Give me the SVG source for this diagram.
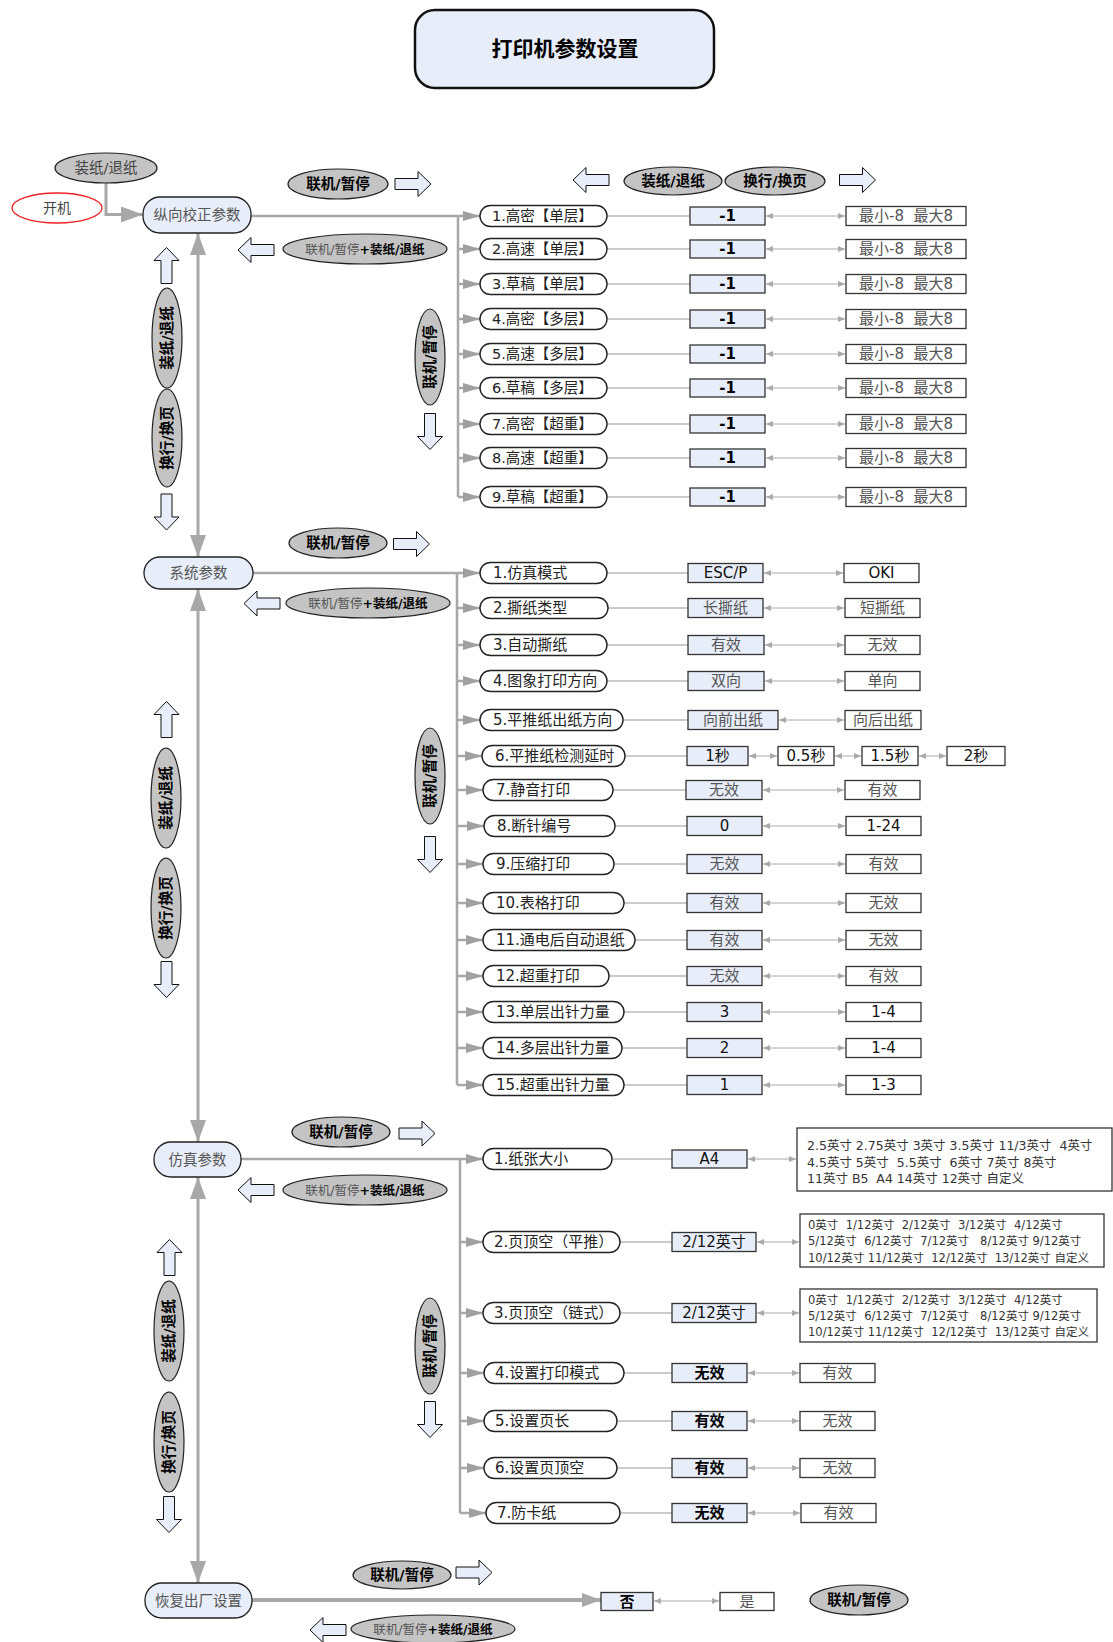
<svg xmlns="http://www.w3.org/2000/svg" xmlns:xlink="http://www.w3.org/1999/xlink" width="1113" height="1642" viewBox="0 0 1113 1642" xml:space="preserve">
<style>
text{font-family:"DejaVu Sans","Noto Sans CJK SC",sans-serif;dominant-baseline:central;white-space:pre}
.c{text-anchor:middle}
.nd{fill:#e8eef9;stroke:#222;stroke-width:1.3}
.tt{fill:#e8eef9;stroke:#111;stroke-width:2.5}
.nt{font-size:14.5px;fill:#555}
.ky{fill:#c4c4c4;stroke:#222;stroke-width:1.2}
.kt{font-size:14.5px;font-weight:bold;fill:#000}
.kc{font-size:12.5px;fill:#555}
.kb{font-weight:bold;fill:#000}
.pl{fill:#fff;stroke:#222;stroke-width:1.4}
.p1{font-size:14.5px;fill:#222}
.p2{font-size:15px;fill:#222}
.p3{font-size:15px;fill:#222}
.vb{fill:#e8eef9;stroke:#333;stroke-width:1.3}
.rb{fill:#fff;stroke:#333;stroke-width:1.3}
.vt{font-size:15px;fill:#111}
.vg{font-size:15px;fill:#555}
.bd{font-weight:bold;fill:#000}
.ba{fill:#e8eef9;stroke:#111;stroke-width:1}
.ml{stroke:#a8a8a8;stroke-width:3;fill:none}
.bl{stroke:#a8a8a8;stroke-width:2.5;fill:none}
.br{stroke:#a8a8a8;stroke-width:2.5;fill:none;marker-end:url(#mB)}
.tl{stroke:#bbb;stroke-width:1.5;fill:none}
.da{stroke:#aaa;stroke-width:1;fill:none;marker-start:url(#mS);marker-end:url(#mS)}
.bx{font-size:12.5px;fill:#333}
.bs{font-size:11.5px;fill:#333}
</style>
<defs>
<marker id="mA" markerUnits="userSpaceOnUse" markerWidth="22" markerHeight="16" refX="22" refY="8" orient="auto-start-reverse"><path d="M0,0 L22,8 L0,16 z" fill="#a8a8a8"/></marker>
<marker id="mC" markerUnits="userSpaceOnUse" markerWidth="19" markerHeight="14" refX="19" refY="7" orient="auto"><path d="M0,0 L19,7 L0,14 z" fill="#a8a8a8"/></marker>
<marker id="mB" markerUnits="userSpaceOnUse" markerWidth="17" markerHeight="10" refX="17" refY="5" orient="auto"><path d="M0,0 L17,5 L0,10 z" fill="#a0a0a0"/></marker>
<marker id="mS" markerUnits="userSpaceOnUse" markerWidth="7" markerHeight="6" refX="7" refY="3" orient="auto-start-reverse"><path d="M0,0 L7,3 L0,6 z" fill="#aaa"/></marker>
<path id="ba" class="ba" d="M-18,-5.5 H5 V-12.5 L18,0 L5,12.5 V5.5 H-18 Z"/>
</defs>

<g id="title"><rect class="tt" x="415" y="10" width="299" height="78" rx="20"/><text class="c" x="565" y="49" style="font-size:21px;font-weight:bold">打印机参数设置</text></g>

<g id="connectors">
<path class="ml" d="M106,183 V214.5 H143" marker-end="url(#mA)"/>
<line class="ml" x1="198" y1="233" x2="198" y2="557" marker-start="url(#mA)" marker-end="url(#mA)"/>
<line class="ml" x1="198" y1="589" x2="198" y2="1142" marker-start="url(#mA)" marker-end="url(#mA)"/>
<line class="ml" x1="198" y1="1177" x2="198" y2="1583" marker-start="url(#mA)" marker-end="url(#mA)"/>
<!-- section 1 -->
<path class="br" d="M251,216 H480"/>
<path class="bl" d="M458,216 V497"/>
<path class="br" d="M458,249 H480"/><path class="br" d="M458,284 H480"/><path class="br" d="M458,319 H480"/><path class="br" d="M458,354 H480"/><path class="br" d="M458,388 H480"/><path class="br" d="M458,424 H480"/><path class="br" d="M458,458 H480"/><path class="br" d="M458,497 H480"/>
<path class="tl" d="M607,216H690M607,249H690M607,284H690M607,319H690M607,354H690M607,388H690M607,424H690M607,458H690M607,497H690"/>
<line class="da" x1="766" y1="216" x2="845" y2="216"/><line class="da" x1="766" y1="249" x2="845" y2="249"/><line class="da" x1="766" y1="284" x2="845" y2="284"/><line class="da" x1="766" y1="319" x2="845" y2="319"/><line class="da" x1="766" y1="354" x2="845" y2="354"/><line class="da" x1="766" y1="388" x2="845" y2="388"/><line class="da" x1="766" y1="424" x2="845" y2="424"/><line class="da" x1="766" y1="458" x2="845" y2="458"/><line class="da" x1="766" y1="497" x2="845" y2="497"/>
<!-- section 2 -->
<path class="br" d="M253,573 H480"/>
<path class="bl" d="M457,573 V1085"/>
<path class="br" d="M457,608 H480"/><path class="br" d="M457,645 H480"/><path class="br" d="M457,681 H480"/><path class="br" d="M457,720 H480"/><path class="br" d="M457,756 H482"/><path class="br" d="M457,790 H483"/><path class="br" d="M457,826 H484"/><path class="br" d="M457,864 H483"/><path class="br" d="M457,903 H483"/><path class="br" d="M457,940 H483"/><path class="br" d="M457,976 H483"/><path class="br" d="M457,1012 H483"/><path class="br" d="M457,1048 H483"/><path class="br" d="M457,1085 H483"/>
<path class="tl" d="M607,573H688M608,608H688M607,645H688M607,681H688M623,720H688M625,756H687M613,790H686M615,826H687M614,864H687M624,903H687M635,940H687M609,976H687M624,1012H687M622,1048H687M624,1085H687"/>
<line class="da" x1="764" y1="573" x2="843" y2="573"/><line class="da" x1="764" y1="608" x2="844" y2="608"/><line class="da" x1="765" y1="645" x2="844" y2="645"/><line class="da" x1="765" y1="681" x2="844" y2="681"/><line class="da" x1="779" y1="720" x2="844" y2="720"/>
<line class="da" x1="749" y1="756" x2="777" y2="756"/><line class="da" x1="835" y1="756" x2="861" y2="756"/><line class="da" x1="919" y1="756" x2="946" y2="756"/>
<line class="da" x1="763" y1="790" x2="844" y2="790"/><line class="da" x1="763" y1="826" x2="845" y2="826"/><line class="da" x1="763" y1="864" x2="845" y2="864"/><line class="da" x1="763" y1="903" x2="845" y2="903"/><line class="da" x1="763" y1="940" x2="845" y2="940"/><line class="da" x1="763" y1="976" x2="845" y2="976"/><line class="da" x1="763" y1="1012" x2="845" y2="1012"/><line class="da" x1="763" y1="1048" x2="845" y2="1048"/><line class="da" x1="763" y1="1085" x2="845" y2="1085"/>
<!-- section 3 -->
<path class="br" d="M241,1159 H483"/>
<path class="bl" d="M460,1159 V1513"/>
<path class="br" d="M460,1242 H483"/><path class="br" d="M460,1313 H483"/><path class="br" d="M460,1373 H484"/><path class="br" d="M460,1421 H484"/><path class="br" d="M460,1468 H484"/><path class="br" d="M460,1513 H486"/>
<path class="tl" d="M612,1159H672M620,1242H672M620,1313H672M624,1373H672M617,1421H672M617,1468H672M620,1513H672"/>
<line class="da" x1="748" y1="1159" x2="796" y2="1159"/><line class="da" x1="757" y1="1242" x2="799" y2="1242"/><line class="da" x1="757" y1="1313" x2="799" y2="1313"/><line class="da" x1="748" y1="1373" x2="799" y2="1373"/><line class="da" x1="748" y1="1421" x2="799" y2="1421"/><line class="da" x1="748" y1="1468" x2="799" y2="1468"/><line class="da" x1="748" y1="1513" x2="800" y2="1513"/>
<!-- section 4 -->
<line x1="252" y1="1600" x2="601" y2="1600" stroke="#a8a8a8" stroke-width="4" marker-end="url(#mC)"/>
<line class="da" x1="654" y1="1601" x2="719" y2="1601"/>
</g>

<g id="keys">
<g id="k-load0"><ellipse class="ky" cx="106" cy="168" rx="51" ry="15"/><text class="c" x="106" y="168" style="font-size:14.5px;fill:#444">装纸/退纸</text></g>
<g id="k-power"><ellipse cx="57" cy="208" rx="45" ry="15" fill="#fff" stroke="#e22" stroke-width="1.3"/><text class="c" x="57" y="208" style="font-size:14px;fill:#444">开机</text></g>
<!-- section 1 keys -->
<g id="k1a"><ellipse class="ky" cx="338" cy="184" rx="50" ry="15"/><text class="kt c" x="338" y="184">联机/暂停</text></g>
<g id="k1b"><ellipse class="ky" cx="365" cy="249" rx="82" ry="15"/><text class="kc c" x="365" y="249">联机/暂停<tspan class="kb">+装纸/退纸</tspan></text></g>
<g id="k1c"><ellipse class="ky" cx="167" cy="338" rx="15" ry="50"/><text class="kt c" transform="translate(167,338) rotate(-90)">装纸/退纸</text></g>
<g id="k1d"><ellipse class="ky" cx="167" cy="438" rx="15" ry="49"/><text class="kt c" transform="translate(167,438) rotate(-90)">换行/换页</text></g>
<g id="k1e"><ellipse class="ky" cx="430" cy="357" rx="15" ry="48"/><text class="kt c" transform="translate(430,357) rotate(-90)">联机/暂停</text></g>
<g id="k1f"><ellipse class="ky" cx="673" cy="181" rx="49" ry="14"/><text class="kt c" x="673" y="181">装纸/退纸</text></g>
<g id="k1g"><ellipse class="ky" cx="775" cy="181" rx="50" ry="14"/><text class="kt c" x="775" y="181">换行/换页</text></g>
<!-- section 2 keys -->
<g id="k2a"><ellipse class="ky" cx="338" cy="543" rx="49" ry="15"/><text class="kt c" x="338" y="543">联机/暂停</text></g>
<g id="k2b"><ellipse class="ky" cx="368" cy="603" rx="82" ry="15"/><text class="kc c" x="368" y="603">联机/暂停<tspan class="kb">+装纸/退纸</tspan></text></g>
<g id="k2c"><ellipse class="ky" cx="166" cy="798" rx="15" ry="50"/><text class="kt c" transform="translate(166,798) rotate(-90)">装纸/退纸</text></g>
<g id="k2d"><ellipse class="ky" cx="166" cy="908" rx="15" ry="50"/><text class="kt c" transform="translate(166,908) rotate(-90)">换行/换页</text></g>
<g id="k2e"><ellipse class="ky" cx="430" cy="776" rx="15" ry="48"/><text class="kt c" transform="translate(430,776) rotate(-90)">联机/暂停</text></g>
<!-- section 3 keys -->
<g id="k3a"><ellipse class="ky" cx="341" cy="1132" rx="49" ry="15"/><text class="kt c" x="341" y="1132">联机/暂停</text></g>
<g id="k3b"><ellipse class="ky" cx="365" cy="1190" rx="82" ry="15"/><text class="kc c" x="365" y="1190">联机/暂停<tspan class="kb">+装纸/退纸</tspan></text></g>
<g id="k3c"><ellipse class="ky" cx="169" cy="1331" rx="15" ry="50"/><text class="kt c" transform="translate(169,1331) rotate(-90)">装纸/退纸</text></g>
<g id="k3d"><ellipse class="ky" cx="169" cy="1442" rx="15" ry="50"/><text class="kt c" transform="translate(169,1442) rotate(-90)">换行/换页</text></g>
<g id="k3e"><ellipse class="ky" cx="430" cy="1346" rx="15" ry="48"/><text class="kt c" transform="translate(430,1346) rotate(-90)">联机/暂停</text></g>
<!-- section 4 keys -->
<g id="k4a"><ellipse class="ky" cx="402" cy="1575" rx="49" ry="14"/><text class="kt c" x="402" y="1575">联机/暂停</text></g>
<g id="k4b"><ellipse class="ky" cx="859" cy="1600" rx="49" ry="15"/><text class="kt c" x="859" y="1600">联机/暂停</text></g>
<g id="k4c"><ellipse class="ky" cx="433" cy="1629" rx="82" ry="14"/><text class="kc c" x="433" y="1629">联机/暂停<tspan class="kb">+装纸/退纸</tspan></text></g>
</g>

<g id="block-arrows">
<use xlink:href="#ba" transform="translate(413,184)"/>
<use xlink:href="#ba" transform="translate(256,250) rotate(180)"/>
<use xlink:href="#ba" transform="translate(166.5,265.5) rotate(-90)"/>
<use xlink:href="#ba" transform="translate(166.5,512) rotate(90)"/>
<use xlink:href="#ba" transform="translate(430,431.5) rotate(90)"/>
<use xlink:href="#ba" transform="translate(591,180) rotate(180)"/>
<use xlink:href="#ba" transform="translate(857.5,180)"/>
<use xlink:href="#ba" transform="translate(411.5,544)"/>
<use xlink:href="#ba" transform="translate(262,603.5) rotate(180)"/>
<use xlink:href="#ba" transform="translate(166.5,719.5) rotate(-90)"/>
<use xlink:href="#ba" transform="translate(166.5,979.5) rotate(90)"/>
<use xlink:href="#ba" transform="translate(430,854.5) rotate(90)"/>
<use xlink:href="#ba" transform="translate(417,1133.5)"/>
<use xlink:href="#ba" transform="translate(256,1190) rotate(180)"/>
<use xlink:href="#ba" transform="translate(169.5,1257.5) rotate(-90)"/>
<use xlink:href="#ba" transform="translate(169,1514.5) rotate(90)"/>
<use xlink:href="#ba" transform="translate(430,1419.5) rotate(90)"/>
<use xlink:href="#ba" transform="translate(474,1572.5)"/>
<use xlink:href="#ba" transform="translate(328,1630) rotate(180)"/>
</g>

<g id="n1"><rect class="nd" x="143" y="197" width="108" height="36" rx="17"/><text class="nt c" x="197" y="215">纵向校正参数</text></g>
<g id="n2"><rect class="nd" x="144" y="557" width="109" height="32" rx="16"/><text class="nt c" x="198.5" y="573">系统参数</text></g>
<g id="n3"><rect class="nd" x="154" y="1142" width="87" height="35" rx="17"/><text class="nt c" x="197.5" y="1159.5">仿真参数</text></g>
<g id="n4"><rect class="nd" x="145" y="1583" width="107" height="35" rx="17"/><text class="nt c" x="198.5" y="1600.5">恢复出厂设置</text></g>

<g id="sec1">
<g id="s1r1"><rect class="pl" x="480" y="205.5" width="127" height="21" rx="10.5"/><text class="p1" x="492" y="216">1.高密【单层】</text></g>
<g id="s1r2"><rect class="pl" x="480" y="238.5" width="127" height="21" rx="10.5"/><text class="p1" x="492" y="249">2.高速【单层】</text></g>
<g id="s1r3"><rect class="pl" x="480" y="273.5" width="127" height="21" rx="10.5"/><text class="p1" x="492" y="284">3.草稿【单层】</text></g>
<g id="s1r4"><rect class="pl" x="480" y="308.5" width="127" height="21" rx="10.5"/><text class="p1" x="492" y="319">4.高密【多层】</text></g>
<g id="s1r5"><rect class="pl" x="480" y="343.5" width="127" height="21" rx="10.5"/><text class="p1" x="492" y="354">5.高速【多层】</text></g>
<g id="s1r6"><rect class="pl" x="480" y="377.5" width="127" height="21" rx="10.5"/><text class="p1" x="492" y="388">6.草稿【多层】</text></g>
<g id="s1r7"><rect class="pl" x="480" y="413.5" width="127" height="21" rx="10.5"/><text class="p1" x="492" y="424">7.高密【超重】</text></g>
<g id="s1r8"><rect class="pl" x="480" y="447.5" width="127" height="21" rx="10.5"/><text class="p1" x="492" y="458">8.高速【超重】</text></g>
<g id="s1r9"><rect class="pl" x="480" y="486.5" width="127" height="21" rx="10.5"/><text class="p1" x="492" y="497">9.草稿【超重】</text></g>
<g id="s1v"><rect class="vb" x="690" y="207" width="75" height="18"/><text class="vt bd c" x="727.5" y="216">-1</text>
<rect class="vb" x="690" y="240" width="75" height="18"/><text class="vt bd c" x="727.5" y="249">-1</text>
<rect class="vb" x="690" y="275" width="75" height="18"/><text class="vt bd c" x="727.5" y="284">-1</text>
<rect class="vb" x="690" y="310" width="75" height="18"/><text class="vt bd c" x="727.5" y="319">-1</text>
<rect class="vb" x="690" y="345" width="75" height="18"/><text class="vt bd c" x="727.5" y="354">-1</text>
<rect class="vb" x="690" y="379" width="75" height="18"/><text class="vt bd c" x="727.5" y="388">-1</text>
<rect class="vb" x="690" y="415" width="75" height="18"/><text class="vt bd c" x="727.5" y="424">-1</text>
<rect class="vb" x="690" y="449" width="75" height="18"/><text class="vt bd c" x="727.5" y="458">-1</text>
<rect class="vb" x="690" y="488" width="75" height="18"/><text class="vt bd c" x="727.5" y="497">-1</text></g>
<g id="s1g"><rect class="rb" x="846" y="206.5" width="120" height="19"/><text class="vg c" x="906" y="216">最小-8  最大8</text>
<rect class="rb" x="846" y="239.5" width="120" height="19"/><text class="vg c" x="906" y="249">最小-8  最大8</text>
<rect class="rb" x="846" y="274.5" width="120" height="19"/><text class="vg c" x="906" y="284">最小-8  最大8</text>
<rect class="rb" x="846" y="309.5" width="120" height="19"/><text class="vg c" x="906" y="319">最小-8  最大8</text>
<rect class="rb" x="846" y="344.5" width="120" height="19"/><text class="vg c" x="906" y="354">最小-8  最大8</text>
<rect class="rb" x="846" y="378.5" width="120" height="19"/><text class="vg c" x="906" y="388">最小-8  最大8</text>
<rect class="rb" x="846" y="414.5" width="120" height="19"/><text class="vg c" x="906" y="424">最小-8  最大8</text>
<rect class="rb" x="846" y="448.5" width="120" height="19"/><text class="vg c" x="906" y="458">最小-8  最大8</text>
<rect class="rb" x="846" y="487.5" width="120" height="19"/><text class="vg c" x="906" y="497">最小-8  最大8</text></g>
</g>

<g id="sec2">
<g id="s2r1"><rect class="pl" x="480" y="562.5" width="127" height="21" rx="10.5"/><text class="p2" x="493" y="573">1.仿真模式</text>
<rect class="vb" x="688" y="563.5" width="75" height="19"/><text class="vt c" x="725.5" y="573">ESC/P</text>
<rect class="rb" x="844" y="563.5" width="75" height="19"/><text class="vt c" x="881.5" y="573">OKI</text></g>
<g id="s2r2"><rect class="pl" x="480" y="597.5" width="128" height="21" rx="10.5"/><text class="p2" x="493" y="608">2.撕纸类型</text>
<rect class="vb" x="688" y="598.5" width="75" height="19"/><text class="vg c" x="725.5" y="608">长撕纸</text>
<rect class="rb" x="845" y="598.5" width="75" height="19"/><text class="vg c" x="882.5" y="608">短撕纸</text></g>
<g id="s2r3"><rect class="pl" x="480" y="634.5" width="127" height="21" rx="10.5"/><text class="p2" x="493" y="645">3.自动撕纸</text>
<rect class="vb" x="688" y="635.5" width="76" height="19"/><text class="vg c" x="726" y="645">有效</text>
<rect class="rb" x="845" y="635.5" width="75" height="19"/><text class="vg c" x="882.5" y="645">无效</text></g>
<g id="s2r4"><rect class="pl" x="480" y="670.5" width="127" height="21" rx="10.5"/><text class="p2" x="493" y="681">4.图象打印方向</text>
<rect class="vb" x="688" y="671.5" width="76" height="19"/><text class="vg c" x="726" y="681">双向</text>
<rect class="rb" x="845" y="671.5" width="75" height="19"/><text class="vg c" x="882.5" y="681">单向</text></g>
<g id="s2r5"><rect class="pl" x="480" y="709.5" width="143" height="21" rx="10.5"/><text class="p2" x="493" y="720">5.平推纸出纸方向</text>
<rect class="vb" x="688" y="710.5" width="90" height="19"/><text class="vg c" x="733" y="720">向前出纸</text>
<rect class="rb" x="845" y="710.5" width="76" height="19"/><text class="vg c" x="883" y="720">向后出纸</text></g>
<g id="s2r6"><rect class="pl" x="482" y="745.5" width="143" height="21" rx="10.5"/><text class="p2" x="495" y="756">6.平推纸检测延时</text>
<rect class="vb" x="687" y="746.5" width="61" height="19"/><text class="vt c" x="717.5" y="756">1秒</text>
<rect class="rb" x="778" y="746.5" width="56" height="19"/><text class="vt c" x="806" y="756">0.5秒</text>
<rect class="rb" x="862" y="746.5" width="56" height="19"/><text class="vt c" x="890" y="756">1.5秒</text>
<rect class="rb" x="947" y="746.5" width="58" height="19"/><text class="vt c" x="976" y="756">2秒</text></g>
<g id="s2r7"><rect class="pl" x="483" y="779.5" width="130" height="21" rx="10.5"/><text class="p2" x="496" y="790">7.静音打印</text>
<rect class="vb" x="686" y="780.5" width="76" height="19"/><text class="vg c" x="724" y="790">无效</text>
<rect class="rb" x="845" y="780.5" width="75" height="19"/><text class="vg c" x="882.5" y="790">有效</text></g>
<g id="s2r8"><rect class="pl" x="484" y="815.5" width="131" height="21" rx="10.5"/><text class="p2" x="497" y="826">8.断针编号</text>
<rect class="vb" x="687" y="816.5" width="75" height="19"/><text class="vt c" x="724.5" y="826">0</text>
<rect class="rb" x="846" y="816.5" width="75" height="19"/><text class="vt c" x="883.5" y="826">1-24</text></g>
<g id="s2r9"><rect class="pl" x="483" y="853.5" width="131" height="21" rx="10.5"/><text class="p2" x="496" y="864">9.压缩打印</text>
<rect class="vb" x="687" y="854.5" width="75" height="19"/><text class="vg c" x="724.5" y="864">无效</text>
<rect class="rb" x="846" y="854.5" width="75" height="19"/><text class="vg c" x="883.5" y="864">有效</text></g>
<g id="s2r10"><rect class="pl" x="483" y="892.5" width="141" height="21" rx="10.5"/><text class="p2" x="496" y="903">10.表格打印</text>
<rect class="vb" x="687" y="893.5" width="75" height="19"/><text class="vg c" x="724.5" y="903">有效</text>
<rect class="rb" x="846" y="893.5" width="75" height="19"/><text class="vg c" x="883.5" y="903">无效</text></g>
<g id="s2r11"><rect class="pl" x="483" y="929.5" width="152" height="21" rx="10.5"/><text class="p2" x="496" y="940">11.通电后自动退纸</text>
<rect class="vb" x="687" y="930.5" width="75" height="19"/><text class="vg c" x="724.5" y="940">有效</text>
<rect class="rb" x="846" y="930.5" width="75" height="19"/><text class="vg c" x="883.5" y="940">无效</text></g>
<g id="s2r12"><rect class="pl" x="483" y="965.5" width="126" height="21" rx="10.5"/><text class="p2" x="496" y="976">12.超重打印</text>
<rect class="vb" x="687" y="966.5" width="75" height="19"/><text class="vg c" x="724.5" y="976">无效</text>
<rect class="rb" x="846" y="966.5" width="75" height="19"/><text class="vg c" x="883.5" y="976">有效</text></g>
<g id="s2r13"><rect class="pl" x="483" y="1001.5" width="141" height="21" rx="10.5"/><text class="p2" x="496" y="1012">13.单层出针力量</text>
<rect class="vb" x="687" y="1002.5" width="75" height="19"/><text class="vt c" x="724.5" y="1012">3</text>
<rect class="rb" x="846" y="1002.5" width="75" height="19"/><text class="vt c" x="883.5" y="1012">1-4</text></g>
<g id="s2r14"><rect class="pl" x="483" y="1037.5" width="139" height="21" rx="10.5"/><text class="p2" x="496" y="1048">14.多层出针力量</text>
<rect class="vb" x="687" y="1038.5" width="75" height="19"/><text class="vt c" x="724.5" y="1048">2</text>
<rect class="rb" x="846" y="1038.5" width="75" height="19"/><text class="vt c" x="883.5" y="1048">1-4</text></g>
<g id="s2r15"><rect class="pl" x="483" y="1074.5" width="141" height="21" rx="10.5"/><text class="p2" x="496" y="1085">15.超重出针力量</text>
<rect class="vb" x="687" y="1075.5" width="75" height="19"/><text class="vt c" x="724.5" y="1085">1</text>
<rect class="rb" x="846" y="1075.5" width="75" height="19"/><text class="vt c" x="883.5" y="1085">1-3</text></g>
</g>

<g id="sec3">
<g id="s3r1"><rect class="pl" x="483" y="1148.5" width="129" height="21" rx="10.5"/><text class="p3" x="494" y="1159">1.纸张大小</text>
<rect class="vb" x="672" y="1150" width="75" height="18"/><text class="vt c" x="709.5" y="1159">A4</text>
<rect class="rb" x="797" y="1128" width="315" height="63"/>
<text class="bx" x="807" y="1145">2.5英寸 2.75英寸 3英寸 3.5英寸 11/3英寸  4英寸</text>
<text class="bx" x="807" y="1162">4.5英寸 5英寸  5.5英寸  6英寸 7英寸 8英寸</text>
<text class="bx" x="807" y="1178">11英寸 B5  A4 14英寸 12英寸 自定义</text></g>
<g id="s3r2"><rect class="pl" x="483" y="1231.5" width="137" height="21" rx="10.5"/><text class="p3" x="494" y="1242">2.页顶空（平推）</text>
<rect class="vb" x="672" y="1232.5" width="84" height="19"/><text class="vt c" x="714" y="1242">2/12英寸</text>
<rect class="rb" x="800" y="1214" width="304" height="53"/>
<text class="bs" x="808" y="1225">0英寸  1/12英寸  2/12英寸  3/12英寸  4/12英寸</text>
<text class="bs" x="808" y="1241">5/12英寸  6/12英寸  7/12英寸   8/12英寸 9/12英寸</text>
<text class="bs" x="808" y="1258">10/12英寸 11/12英寸  12/12英寸  13/12英寸 自定义</text></g>
<g id="s3r3"><rect class="pl" x="483" y="1302.5" width="137" height="21" rx="10.5"/><text class="p3" x="494" y="1313">3.页顶空（链式）</text>
<rect class="vb" x="672" y="1303.5" width="84" height="19"/><text class="vt c" x="714" y="1313">2/12英寸</text>
<rect class="rb" x="800" y="1289" width="297" height="53"/>
<text class="bs" x="808" y="1300">0英寸  1/12英寸  2/12英寸  3/12英寸  4/12英寸</text>
<text class="bs" x="808" y="1316">5/12英寸  6/12英寸  7/12英寸   8/12英寸 9/12英寸</text>
<text class="bs" x="808" y="1332">10/12英寸 11/12英寸  12/12英寸  13/12英寸 自定义</text></g>
<g id="s3r4"><rect class="pl" x="484" y="1362.5" width="140" height="21" rx="10.5"/><text class="p3" x="495" y="1373">4.设置打印模式</text>
<rect class="vb" x="672" y="1363.5" width="75" height="19"/><text class="vt bd c" x="709.5" y="1373">无效</text>
<rect class="rb" x="800" y="1363.5" width="75" height="19"/><text class="vg c" x="837.5" y="1373">有效</text></g>
<g id="s3r5"><rect class="pl" x="484" y="1410.5" width="133" height="21" rx="10.5"/><text class="p3" x="495" y="1421">5.设置页长</text>
<rect class="vb" x="672" y="1411.5" width="75" height="19"/><text class="vt bd c" x="709.5" y="1421">有效</text>
<rect class="rb" x="800" y="1411.5" width="75" height="19"/><text class="vg c" x="837.5" y="1421">无效</text></g>
<g id="s3r6"><rect class="pl" x="484" y="1457.5" width="133" height="21" rx="10.5"/><text class="p3" x="495" y="1468">6.设置页顶空</text>
<rect class="vb" x="672" y="1458.5" width="75" height="19"/><text class="vt bd c" x="709.5" y="1468">有效</text>
<rect class="rb" x="800" y="1458.5" width="75" height="19"/><text class="vg c" x="837.5" y="1468">无效</text></g>
<g id="s3r7"><rect class="pl" x="486" y="1502.5" width="134" height="21" rx="10.5"/><text class="p3" x="497" y="1513">7.防卡纸</text>
<rect class="vb" x="672" y="1503.5" width="75" height="19"/><text class="vt bd c" x="709.5" y="1513">无效</text>
<rect class="rb" x="801" y="1503.5" width="75" height="19"/><text class="vg c" x="838.5" y="1513">有效</text></g>
</g>

<g id="sec4">
<g id="s4no"><rect class="vb" x="601" y="1592.5" width="52" height="18"/><text class="vt bd c" x="627" y="1601.5">否</text></g>
<g id="s4yes"><rect class="rb" x="720" y="1592.5" width="54" height="18"/><text class="vg c" x="747" y="1601.5">是</text></g>
</g>
</svg>
